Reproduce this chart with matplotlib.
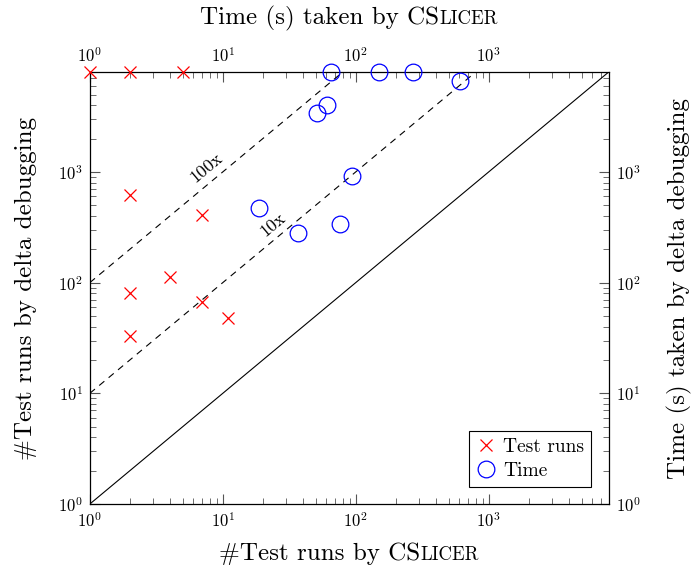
import numpy as np
import matplotlib
matplotlib.use('Agg')
import matplotlib.pyplot as plt
from matplotlib.offsetbox import TextArea, HPacker, AnchoredOffsetbox

plt.rcParams['font.family'] = ['cmr10', 'DejaVu Serif']
plt.rcParams['mathtext.fontset'] = 'cm'
plt.rcParams['axes.formatter.use_mathtext'] = True

TOP = 8000  # timeouts are drawn at the upper border

# test runs: CSlicer vs delta debugging
runs_cslicer = [1, 2, 5, 2, 7, 4, 2, 7, 11, 2]
runs_dd = [TOP, TOP, TOP, 620, 410, 113, 81, 67, 48, 33]

# time (s): CSlicer vs delta debugging
time_cslicer = [65, 149, 268, 605, 61, 51.5, 94, 18.6, 76, 37]
time_dd = [TOP, TOP, TOP, 6600, 4000, 3400, 915, 477, 338, 280]

fig = plt.figure(figsize=(6.91, 5.71), dpi=100)
ax = fig.add_axes([0.130, 0.1173, 0.751, 0.7567])
ax.set_xscale('log')
ax.set_yscale('log')
ax.set_xlim(1, TOP)
ax.set_ylim(1, TOP)

# reference lines
xs = np.array([1, TOP])
ax.plot(xs, xs, color='black', lw=0.8)
ax.plot(xs, xs * 10, color='black', lw=0.8, ls=(0, (6, 5)))
ax.plot(xs, xs * 100, color='black', lw=0.8, ls=(0, (6, 5)))
ax.text(7.6, 1087, '100x', rotation=40, ha='center', va='center', fontsize=13)
ax.text(23.8, 333, '10x', rotation=40, ha='center', va='center', fontsize=13)

ax.plot(runs_cslicer, runs_dd, ls='none', marker='x', color='red', ms=9, mew=0.9,
        label='Test runs', clip_on=False, zorder=5)
ax.plot(time_cslicer, time_dd, ls='none', marker='o', mfc='none', mec='blue', ms=12,
        mew=0.9, label='Time', clip_on=False, zorder=5)

ax.tick_params(which='both', direction='in', top=True, right=True,
               labeltop=True, labelright=True, labelsize=12, color='#555555')
ax.tick_params(which='major', length=7, width=0.8, pad=5)
ax.tick_params(which='minor', length=4, width=0.6)
for s in ax.spines.values():
    s.set_linewidth(0.9)

fig.text(0.038, 0.495, '#Test runs by delta debugging', rotation=90,
         ha='center', va='center', fontsize=18)
fig.text(0.984, 0.495, 'Time (s) taken by delta debugging', rotation=90,
         ha='center', va='center', fontsize=18)


def smallcaps(main, caps, y):
    box = HPacker(children=[TextArea(main, textprops=dict(size=18)),
                            TextArea(caps, textprops=dict(size=13.5))],
                  align='baseline', pad=0, sep=0)
    ab = AnchoredOffsetbox(loc='center', child=box, bbox_to_anchor=(0.505, y),
                           bbox_transform=fig.transFigure, frameon=False,
                           pad=0, borderpad=0)
    fig.add_artist(ab)


smallcaps('#Test runs by CS', 'LICER', 0.030)
smallcaps('Time (s) taken by CS', 'LICER', 0.968)

leg = ax.legend(loc='lower right', fontsize=14, fancybox=False, edgecolor='black',
                framealpha=1, borderaxespad=0.9, handletextpad=0.4, handlelength=1.0,
                borderpad=0.35, labelspacing=0.3)
leg.get_frame().set_linewidth(0.8)

fig.savefig('out.png', dpi=100)
